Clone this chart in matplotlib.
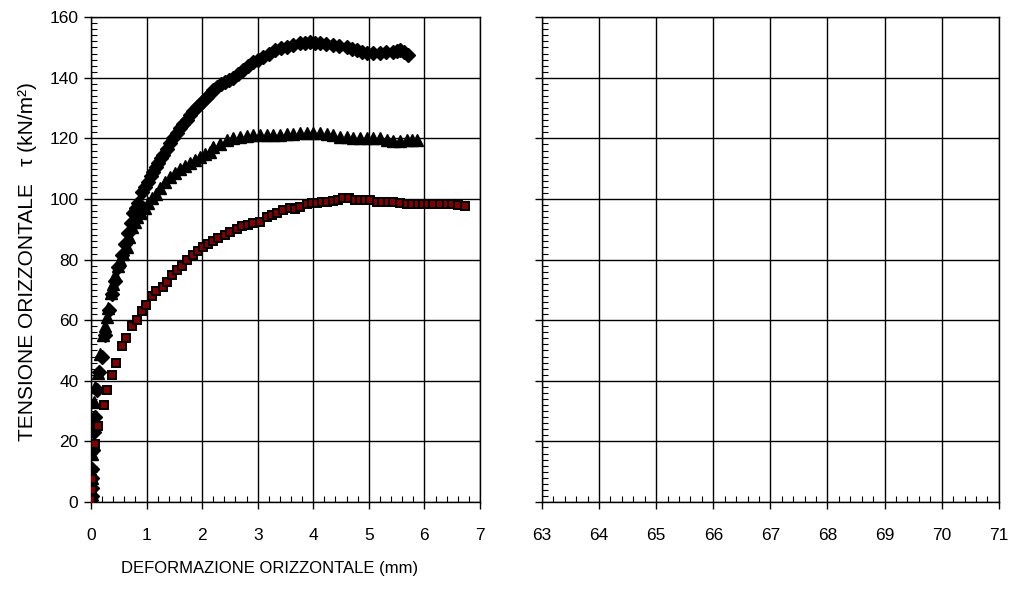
import matplotlib
matplotlib.use("Agg")
import matplotlib.pyplot as plt
from matplotlib.ticker import MultipleLocator

plt.rcParams['font.family'] = ['Liberation Sans', 'DejaVu Sans']

# serie 1 - rombi
x_rombi = [0.00, 0.01, 0.01, 0.02, 0.02, 0.04, 0.06, 0.07, 0.10, 0.15, 0.20, 0.25, 0.33, 0.38,
           0.44, 0.49, 0.55, 0.61, 0.67, 0.72, 0.76, 0.81, 0.85, 0.92, 0.97, 1.03, 1.08, 1.12,
           1.17, 1.21, 1.26, 1.30, 1.36, 1.42, 1.48, 1.54, 1.60, 1.66, 1.72, 1.78, 1.84, 1.90,
           1.96, 2.02, 2.08, 2.14, 2.20, 2.27, 2.34, 2.41, 2.48, 2.56, 2.65, 2.74, 2.83, 2.92,
           3.01, 3.10, 3.20, 3.31, 3.42, 3.53, 3.64, 3.76, 3.85, 3.94, 4.03, 4.12, 4.23, 4.35,
           4.47, 4.60, 4.70, 4.79, 4.88, 4.97, 5.08, 5.20, 5.31, 5.43, 5.50, 5.56, 5.63, 5.70]
y_rombi = [0.5, 2, 4.5, 8, 11, 17, 23, 28, 37, 43, 48, 55, 63.5, 68.5,
           73, 77.5, 81.5, 85, 88.8, 92, 95.4, 97, 98.7, 102.3, 104, 105.6, 107.5, 109,
           110.5, 112, 113.5, 114.5, 116.5, 118.5, 120.2, 121.8, 123.4, 124.8, 126.2, 127.7, 129, 130.2,
           131.2, 132.4, 133.6, 134.8, 136, 137, 137.8, 138.6, 139.4, 140, 141.3, 142.6, 144, 145.2,
           146, 146.9, 148, 149.2, 149.7, 150.2, 150.8, 151.5, 151.6, 151.8, 151.6, 151.5, 151.1, 150.8,
           150.5, 150.2, 149.6, 149.2, 148.6, 148.2, 148.3, 148.2, 148.4, 148.5, 148.9, 149.2, 148.5, 147.5]

# serie 2 - triangoli
x_tri = [0.00, 0.01, 0.01, 0.03, 0.05, 0.08, 0.12, 0.16, 0.21, 0.25, 0.28, 0.31, 0.36, 0.40,
         0.43, 0.48, 0.52, 0.58, 0.64, 0.69, 0.74, 0.79, 0.83, 0.90, 0.97, 1.03, 1.10, 1.17,
         1.24, 1.33, 1.42, 1.51, 1.60, 1.69, 1.78, 1.87, 1.96, 2.05, 2.14, 2.20, 2.32, 2.45,
         2.56, 2.68, 2.80, 2.92, 3.04, 3.16, 3.28, 3.40, 3.52, 3.64, 3.76, 3.88, 4.00, 4.12,
         4.24, 4.36, 4.48, 4.60, 4.72, 4.84, 4.96, 5.08, 5.20, 5.32, 5.44, 5.56, 5.68, 5.78, 5.87]
y_tri = [2, 8, 16, 25, 33, 38, 42.6, 49, 55, 58, 61, 64, 69, 72,
         75, 78, 80, 82, 84, 87.5, 90.8, 92.5, 94, 95.5, 97, 98.7, 100.3, 101.7,
         103.5, 105.5, 107.3, 108.7, 110, 111, 112, 113, 114, 115, 115.5, 117, 118.2, 119.5,
         120, 120.5, 120.8, 121, 121, 121, 121, 121, 121.3, 121.5, 121.7, 121.7, 121.7, 121.7,
         121.3, 121, 120.5, 120.3, 120.1, 120, 120, 120, 120, 119.6, 119.3, 119, 119.5, 119.6, 119.5]

# serie 3 - quadrati
x_quad = [0.00, 0.01, 0.02, 0.07, 0.13, 0.23, 0.29, 0.37, 0.45, 0.55, 0.63, 0.74, 0.82, 0.91,
          0.99, 1.10, 1.17, 1.29, 1.37, 1.46, 1.55, 1.63, 1.73, 1.84, 1.93, 2.02, 2.10, 2.20,
          2.29, 2.41, 2.50, 2.62, 2.72, 2.83, 2.92, 3.04, 3.16, 3.26, 3.35, 3.46, 3.58, 3.67,
          3.76, 3.88, 3.98, 4.06, 4.16, 4.24, 4.35, 4.45, 4.54, 4.64, 4.75, 4.84, 4.93, 5.03,
          5.14, 5.23, 5.35, 5.43, 5.56, 5.68, 5.77, 5.88, 5.97, 6.06, 6.15, 6.28, 6.40, 6.50,
          6.60, 6.73]
y_quad = [0.7, 4, 7.6, 19, 25, 32, 37, 42, 46, 51.5, 54, 58, 60, 63,
          65, 68, 69.6, 71, 72.6, 75, 76.6, 78, 80, 81.5, 83, 84, 85, 86,
          87, 88, 89, 90, 91, 91.4, 92, 92.5, 94, 94.7, 95.3, 96.4, 97, 96.7,
          97.4, 98.3, 98.6, 98.7, 99, 99, 99.3, 99.6, 100.2, 100.2, 99.6, 99.6, 99.6, 99.6,
          99, 99, 99, 99, 98.7, 98.3, 98.3, 98.3, 98.3, 98.3, 98.3, 98.3, 98.3, 98.3,
          98, 97.7]

fig = plt.figure(figsize=(10.13, 6.03), dpi=100)
ax1 = fig.add_axes([0.0898, 0.1675, 0.384, 0.804])
ax2 = fig.add_axes([0.535, 0.1675, 0.451, 0.804])

ax1.plot(x_rombi, y_rombi, ls='none', marker='D', ms=7, color='black', mec='black', zorder=3)
ax1.plot(x_tri, y_tri, ls='none', marker='^', ms=8.5, color='black', mec='black', zorder=3)
ax1.plot(x_quad, y_quad, ls='none', marker='s', ms=6, color='#800000', mec='black', mew=1.4, zorder=3)

for ax in (ax1, ax2):
    ax.set_ylim(0, 160)
    ax.yaxis.set_major_locator(MultipleLocator(20))
    ax.yaxis.set_minor_locator(MultipleLocator(2))
    ax.grid(True, which='major', color='black', lw=1)
    ax.tick_params(which='major', direction='out', length=5, width=1, labelsize=12.5)
    ax.tick_params(axis='y', which='major', pad=4)
    ax.tick_params(axis='x', which='major', pad=14)
    ax.tick_params(which='minor', direction='in', length=4, width=0.8)
    for s in ax.spines.values():
        s.set_color('black')
        s.set_linewidth(1)
    ax.set_axisbelow(True)

ax1.set_xlim(0, 7)
ax1.xaxis.set_major_locator(MultipleLocator(1))
ax1.xaxis.set_minor_locator(MultipleLocator(0.2))

ax2.set_xlim(63, 71)
ax2.xaxis.set_major_locator(MultipleLocator(1))
ax2.xaxis.set_minor_locator(MultipleLocator(0.2))
ax2.tick_params(axis='y', labelleft=False)

fig.text(0.027, 0.567, 'TENSIONE ORIZZONTALE   \u03c4 (kN/m\u00b2)', rotation=90,
         ha='center', va='center', fontsize=15)
fig.text(0.266, 0.058, 'DEFORMAZIONE ORIZZONTALE (mm)', ha='center', va='center', fontsize=12)

fig.savefig('out.png', dpi=100)
